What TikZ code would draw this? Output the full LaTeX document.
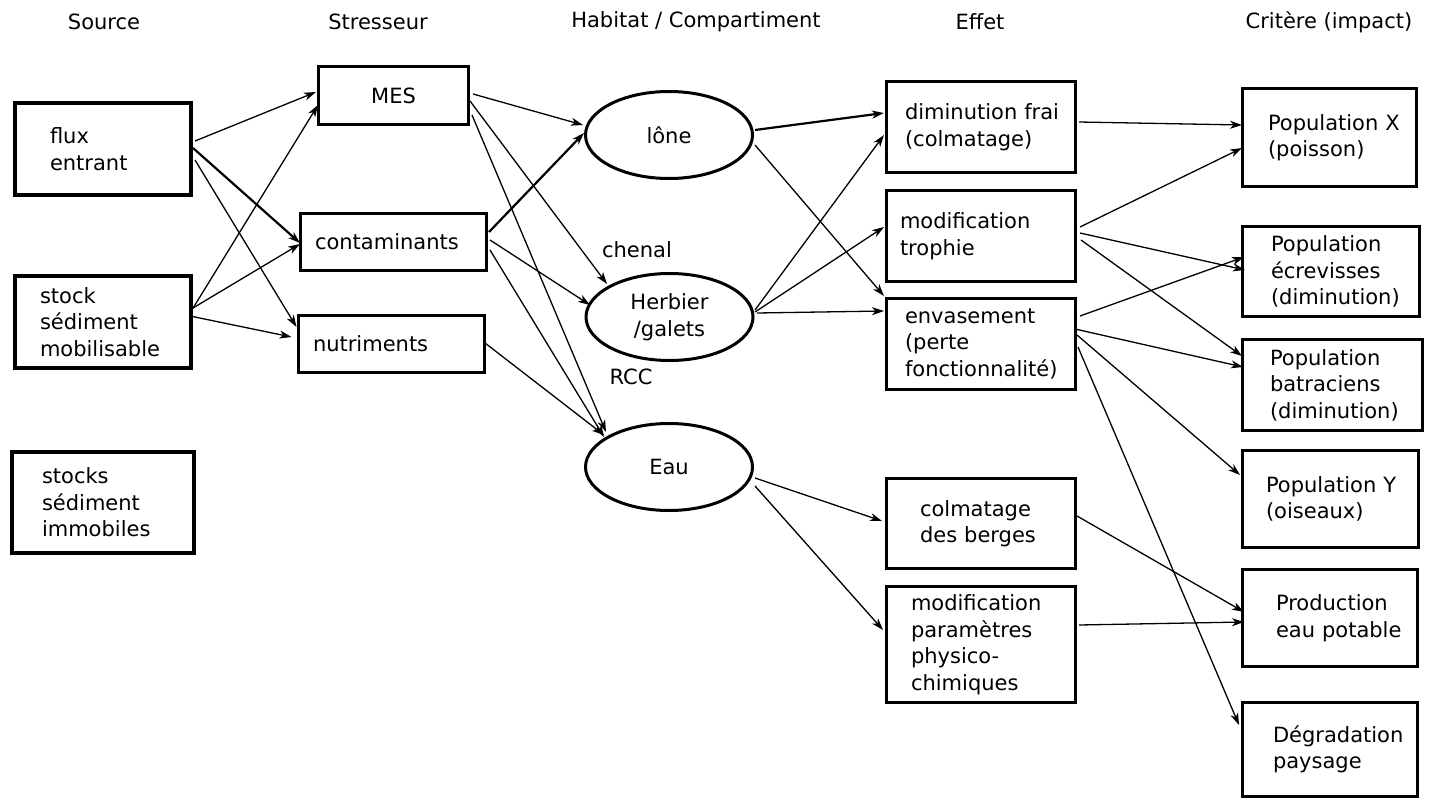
\documentclass[tikz,border=0pt]{standalone}
\usepackage{fontspec}
\setmainfont{DejaVu Sans}
\usetikzlibrary{shapes.geometric,arrows.meta,calc}
\hyphenpenalty=10000
\exhyphenpenalty=10000

\begin{document}
\begin{tikzpicture}[x=1pt,y=-1pt,
  txt/.style={font=\fontsize{21}{26.5}\selectfont},
  box/.style={txt, draw, line width=3pt, rectangle, align=left, inner ysep=0pt},
  srcbox/.style={box, line width=4pt},
  hab/.style={txt, draw, ellipse, line width=3pt, minimum width=167pt, minimum height=87pt, inner sep=0pt, align=center},
  arr/.style={-{Stealth[length=12pt,width=8pt,inset=3.5pt]}, line width=1.3pt},
  bold arr/.style={arr, line width=2.2pt},
  head/.style={txt}
]
\useasboundingbox (0,0) rectangle (1434,800);

% column headings
\node[head] (hsrc) at (104,22) {Source};
\node[head] (hstr) at (378,22) {Stresseur};
\node[head] (hhab) at (696,22) {Habitat / Compartiment};
\node[head] (heff) at (980,22) {Effet};
\node[head] (hcri) at (1329,22) {Critère (impact)};

% sources
\node[srcbox, text width=106pt, inner xsep=35pt, minimum height=92pt] (flux) at (103,149) {flux\\entrant};
\node[srcbox, text width=126pt, inner xsep=25pt, minimum height=92pt] (stockm) at (103,322) {stock\\sédiment\\mobilisable};
\node[srcbox, text width=122pt, inner xsep=30pt, minimum height=101pt] (stocki) at (103,502.5) {stocks\\sédiment\\immobiles};

% stressors
\node[box, align=center, text width=121pt, inner xsep=14.5pt, minimum height=58pt] (MES) at (393.5,95.5) {MES};
\node[box, text width=157pt, inner xsep=14.5pt, minimum height=57pt] (cont) at (393.5,242) {contaminants};
\node[box, text width=157pt, inner xsep=14.5pt, minimum height=57pt] (nutr) at (391.5,344) {nutriments};

% habitats
\node[hab] (lone) at (669,135) {lône};
\node[hab] (herb) at (669.5,317) {Herbier\\/galets};
\node[hab] (eau) at (669,467) {Eau};
\node[txt] (chenal) at (637,250) {chenal};
\node[txt] (rcc) at (631,377) {RCC};

% effects
\node[box, text width=152pt, inner xsep=18.5pt, minimum height=91pt] (dimfrai) at (981,127) {diminution~frai\\(colmatage)};
\node[box, text width=162pt, inner xsep=13.5pt, minimum height=91pt] (modtro) at (981,236) {modification\\trophie};
\node[box, text width=152pt, inner xsep=18.5pt, minimum height=91pt] (envas) at (981,344) {envasement\\(perte\\fonctionnalité)};
\node[box, text width=122pt, inner xsep=33.5pt, minimum height=90pt] (colmb) at (981,523.5) {colmatage\\des~berges};
\node[box, text width=140pt, inner xsep=24.5pt, minimum height=116pt] (modpar) at (981,644.5) {modification\\paramètres\\physico-\\chimiques};

% criteria
\node[box, text width=123pt, inner xsep=25.5pt, minimum height=98pt] (popX) at (1329.5,137.5) {Population~X\\(poisson)};
\node[box, text width=120pt, inner xsep=28.5pt, minimum height=90pt] (ecrev) at (1331,271.5) {Population\\écrevisses\\(diminution)};
\node[box, text width=125pt, inner xsep=27.5pt, minimum height=91pt] (batr) at (1332.5,385) {Population\\batraciens\\(diminution)};
\node[box, text width=129pt, inner xsep=23.5pt, minimum height=97pt] (popY) at (1330.5,499) {Population~Y\\(oiseaux)};
\node[box, text width=108pt, inner xsep=33.5pt, minimum height=97pt] (prod) at (1330,618) {Production\\eau~potable};
\node[box, text width=114pt, inner xsep=30.5pt, minimum height=94pt] (degr) at (1330,749.5) {Dégradation\\paysage};

% source -> stressor
\draw[arr] ($(flux)+(92,-8)$) -- ($(MES)+(-77.5,-3.5)$);
\draw[bold arr] ($(flux)+(90,-1)$) -- ($(cont)+(-93.5,1)$);
\draw[arr] ($(flux)+(92,11)$) -- ($(nutr)+(-95,-17)$);
\draw[arr] ($(stockm)+(87,-9)$) -- ($(MES)+(-75.5,9.5)$);
\draw[arr] ($(stockm)+(90,-14)$) -- ($(cont)+(-93.5,2)$);
\draw[arr] ($(stockm)+(87,-6)$) -- ($(nutr)+(-100,-7)$);

% stressor -> habitat
\draw[arr] ($(MES)+(79.5,-1.5)$) -- ($(lone)+(-86,-10)$);
\draw[arr] ($(MES)+(76.5,5.5)$) -- ($(herb)+(-62.5,-33)$);
\draw[arr] ($(MES)+(78.5,19.5)$) -- ($(eau)+(-63,-35)$);
\draw[bold arr] ($(cont)+(95.5,-10)$) -- ($(lone)+(-85,-2)$);
\draw[arr] ($(cont)+(96.5,-2)$) -- ($(herb)+(-79.5,-12)$);
\draw[arr] ($(cont)+(96.5,8)$) -- ($(eau)+(-65,-30)$);
\draw[arr] ($(nutr)+(93.5,-1)$) -- ($(eau)+(-65,-32)$);

% habitat -> effect
\draw[bold arr] ($(lone)+(86,-5)$) -- ($(dimfrai)+(-97,-14)$);
\draw[arr] ($(lone)+(86,10)$) -- ($(envas)+(-97,-48)$);
\draw[arr] ($(herb)+(85.5,-7)$) -- ($(dimfrai)+(-97,8)$);
\draw[arr] ($(herb)+(85.5,-5)$) -- ($(modtro)+(-97,-9)$);
\draw[arr] ($(herb)+(87.5,-4)$) -- ($(envas)+(-97,-33)$);
\draw[arr] ($(eau)+(86,11)$) -- ($(colmb)+(-99,-2.5)$);
\draw[arr] ($(eau)+(86,19)$) -- ($(modpar)+(-98,-14.5)$);

% effect -> criterion
\draw[arr] ($(dimfrai)+(98,-5)$) -- ($(popX)+(-87.5,-12.5)$);
\draw[arr] ($(modtro)+(99,-9)$) -- ($(popX)+(-87.5,10.5)$);
\draw[arr] ($(modtro)+(99,-3)$) -- ($(ecrev)+(-86,-1.5)$);
\draw[arr] ($(modtro)+(100,4)$) -- ($(batr)+(-90.5,-29)$);
\draw[arr] ($(envas)+(99,-28)$) -- ($(ecrev)+(-87,-14.5)$);
\draw[arr] ($(envas)+(94,-15)$) -- ($(batr)+(-89.5,-18)$);
\draw[arr] ($(envas)+(96,-9)$) -- ($(popY)+(-90.5,-24)$);
\draw[arr] ($(envas)+(97,3)$) -- ($(degr)+(-91,-24.5)$);
\draw[arr] ($(colmb)+(96,-7.5)$) -- ($(prod)+(-86,-6)$);
\draw[arr] ($(modpar)+(98,-19.5)$) -- ($(prod)+(-86,4)$);
\end{tikzpicture}
\end{document}
